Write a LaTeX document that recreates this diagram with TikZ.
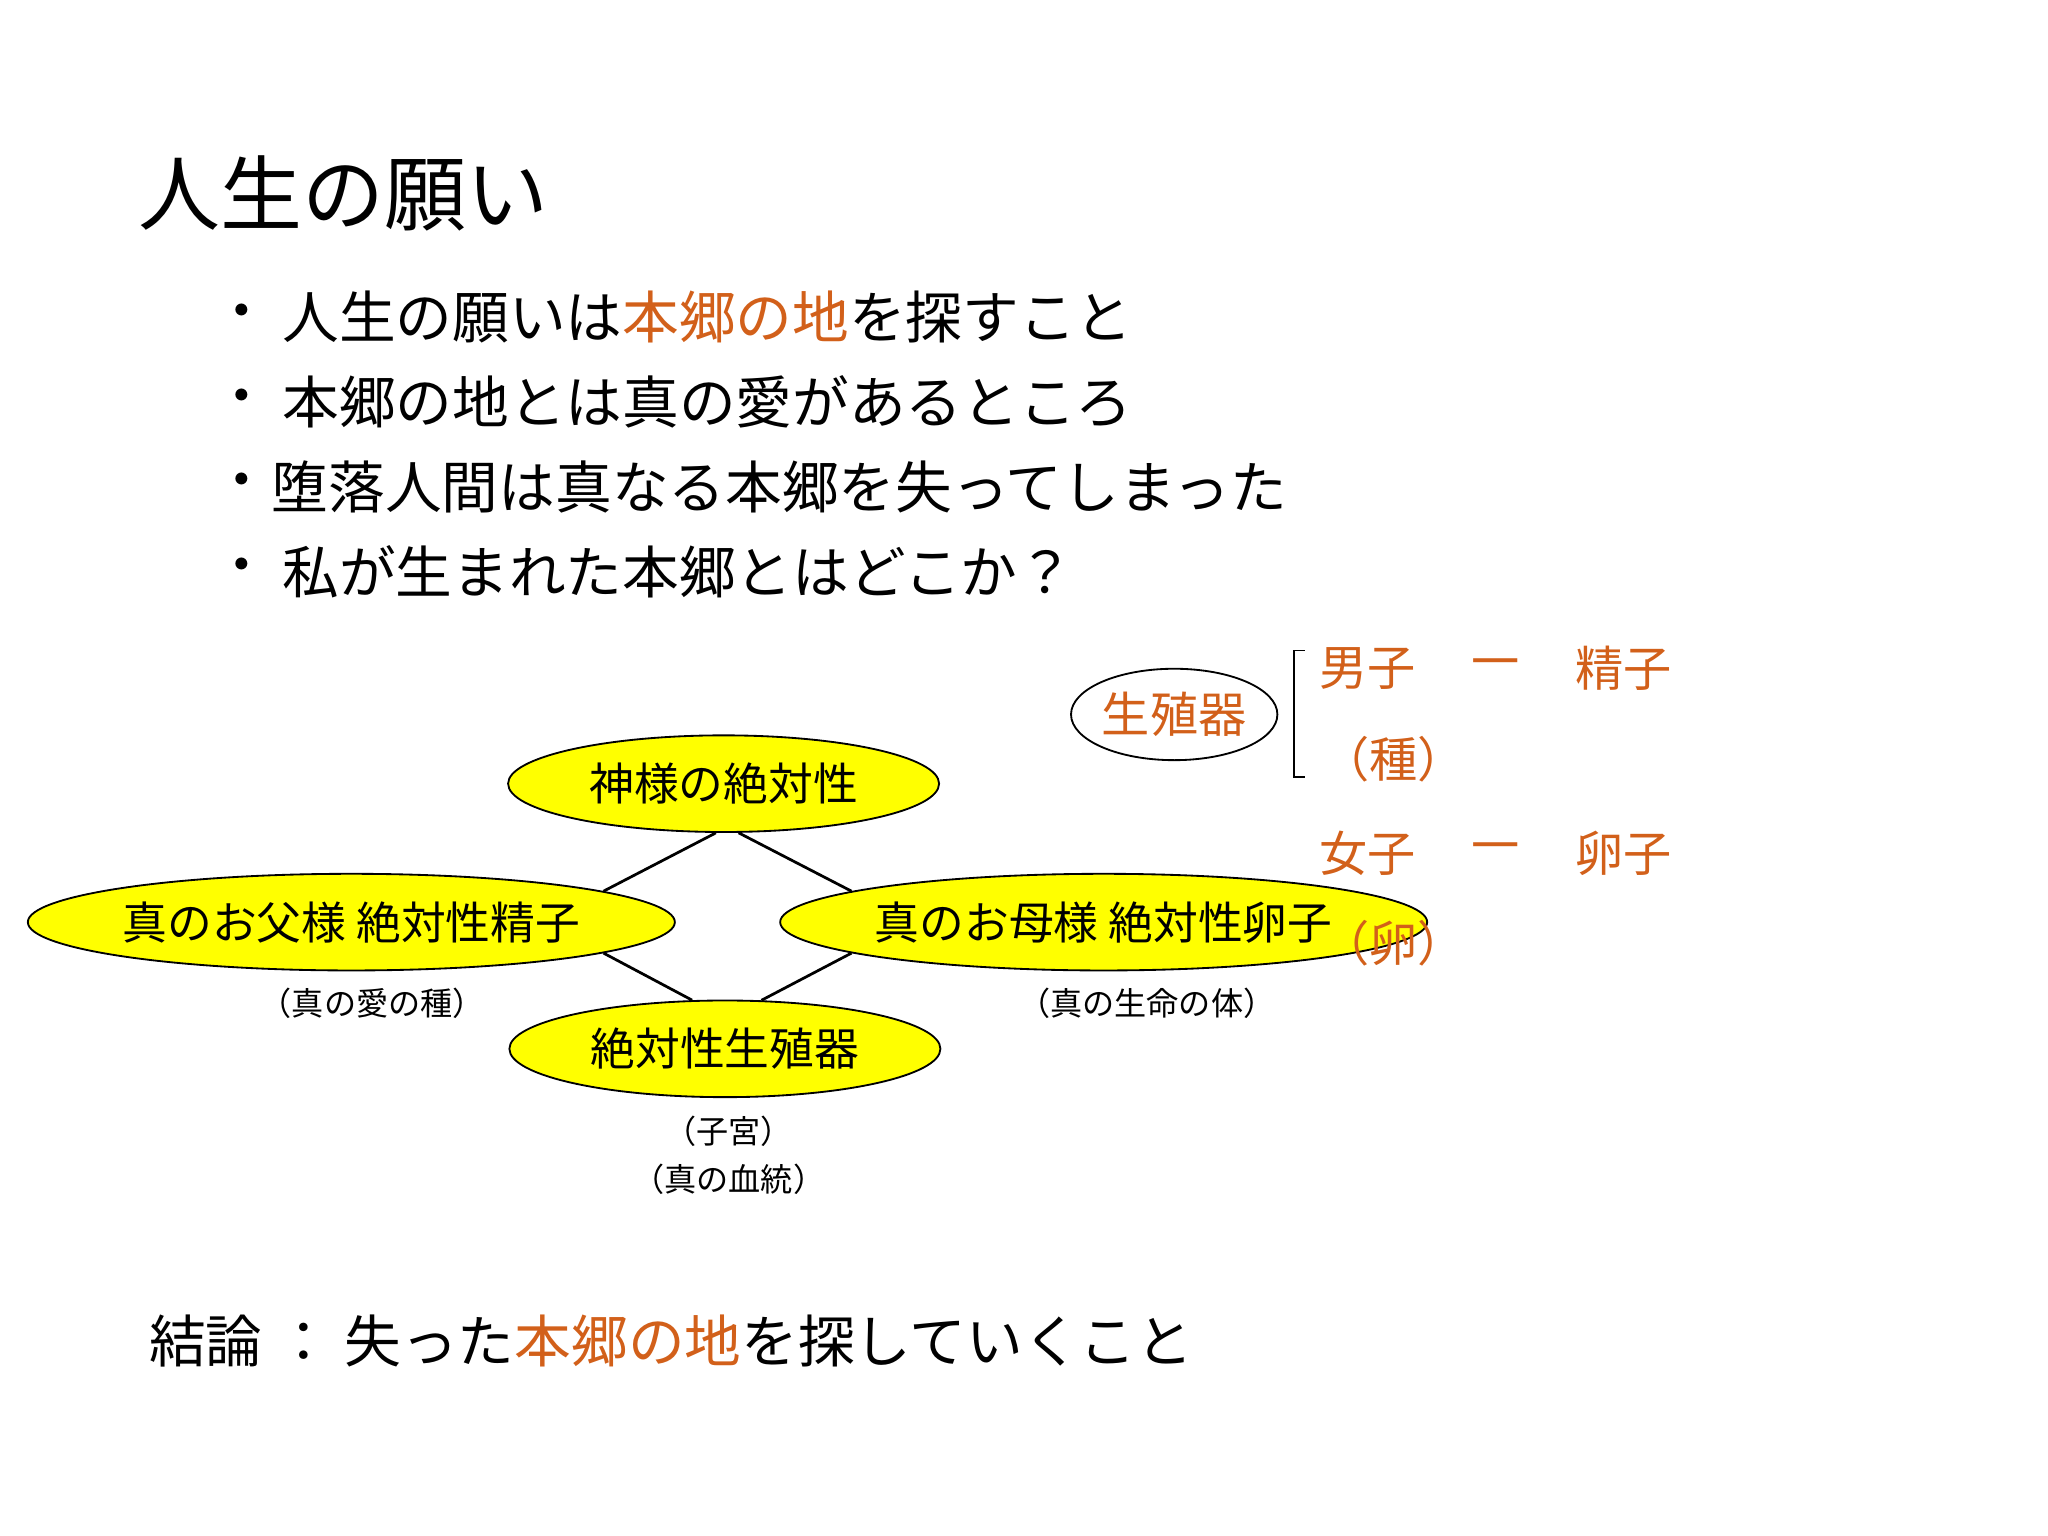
\documentclass[tikz,border=0pt]{standalone}
\usepackage{fontspec}
\setmainfont{Noto Sans CJK JP}
\usetikzlibrary{shapes.geometric}
\definecolor{org}{HTML}{D2601A}
\definecolor{yel}{HTML}{FFFF00}
\tikzset{
  yell/.style={ellipse,draw,thick,fill=yel,inner sep=0pt,font=\fontsize{19.5}{22}\selectfont},
  lbl/.style={font=\fontsize{14}{16}\selectfont},
  bul/.style={anchor=west,font=\fontsize{24.7}{28}\selectfont},
  rt/.style={text=org,font=\fontsize{21}{24}\selectfont},
}
\begin{document}
\begin{tikzpicture}[x=0.02cm,y=-0.02cm]
\useasboundingbox (0,0) rectangle (1568,1176);
\node[anchor=west,font=\fontsize{35.7}{40}\selectfont] (title) at (100,148) {人生の願い};
\foreach \y/\n in {243/a,308/b,373/c,438/d} \node[font=\fontsize{24.7}{28}\selectfont] (dot\n) at (185,\y) {・};
\node[bul] (b1) at (210,243) {人生の願いは\textcolor{org}{本郷の地}を探すこと};
\node[bul] (b2) at (210,308) {本郷の地とは真の愛があるところ};
\node[bul] (b3) at (202,373) {堕落人間は真なる本郷を失ってしまった};
\node[bul] (b4) at (210,438) {私が生まれた本郷とはどこか？};

\node[yell,minimum width=330*0.02cm,minimum height=74*0.02cm] (t) at (554,600) {神様の絶対性};
\node[yell,minimum width=392*0.02cm,minimum height=74*0.02cm] (f) at (269,706) {真のお父様 絶対性精子};
\node[yell,minimum width=392*0.02cm,minimum height=74*0.02cm] (m) at (845,706) {真のお母様 絶対性卵子};
\node[yell,minimum width=330*0.02cm,minimum height=74*0.02cm] (s) at (555,803) {絶対性生殖器};
\draw[very thick] (f.7) -- (t.261);
\draw[very thick] (t.287) -- (m.173);
\draw[very thick] (f.353) -- (s.124);
\draw[very thick] (s.53) -- (m.187);

\node[lbl] (l1) at (285,768) {（真の愛の種）};
\node[lbl] (l2) at (878,768) {（真の生命の体）};
\node[lbl] (l3) at (558,866) {（子宮）};
\node[lbl] (l4) at (558,903) {（真の血統）};

\node[ellipse,draw,thick,minimum width=158*0.02cm,minimum height=70*0.02cm,inner sep=0pt,text=org,font=\fontsize{21}{24}\selectfont] (g) at (899,547) {生殖器};
\coordinate (bt) at (999,498); \coordinate (bb) at (999,595);
\draw[thick] (bt) -- ++(-8,0) |- (bb);
\node[rt] (r1) at (1047,512) {男子};
\node[rt] (r2) at (1145,512) {一};
\node[rt] (r3) at (1243,512) {精子};
\node[rt] (r4) at (1067,581) {（種）};
\node[rt] (r5) at (1047,653) {女子};
\node[rt] (r6) at (1145,653) {一};
\node[rt] (r7) at (1243,653) {卵子};
\node[rt] (r8) at (1067,722) {（卵）};

\node[bul] (c) at (108,1027) {結論 ： 失った\textcolor{org}{本郷の地}を探していくこと};
\end{tikzpicture}
\end{document}
